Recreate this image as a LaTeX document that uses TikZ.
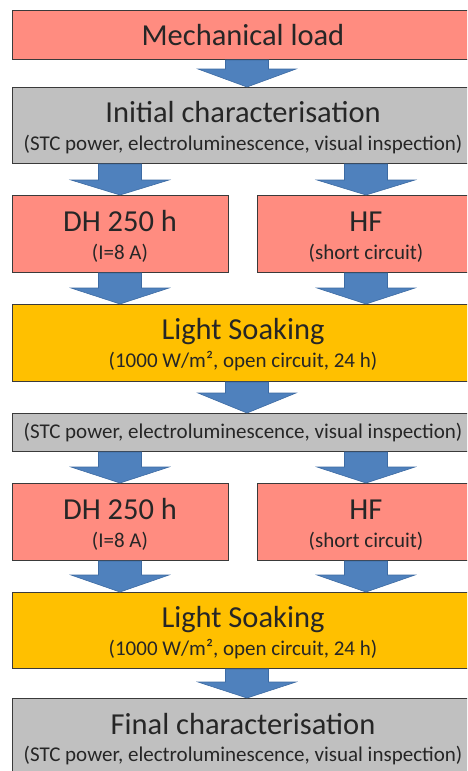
\documentclass[tikz,border=0pt]{standalone}
\usepackage{fontspec}
\setmainfont{Carlito}
\usetikzlibrary{calc}
\definecolor{salmon}{HTML}{FF8C80}
\definecolor{boxgray}{HTML}{C0C0C0}
\definecolor{amber}{HTML}{FFC000}
\definecolor{arrowblue}{HTML}{4F81BD}
\definecolor{arrowedge}{HTML}{3D6BA3}
\definecolor{edge}{HTML}{3A3A3A}
\newcommand\ttlfont{\fontsize{30.5}{34}\selectfont}
\newcommand\subfont{\fontsize{21}{24}\selectfont}
\newcommand\blockarrow[4]{%
  \filldraw[barrow] let \p1=(#2.south), \p2=(#3.north) in
    (#1pt-21.5pt,\y1) -- (#1pt+21.5pt,\y1) -- (#1pt+21.5pt,\y2+#4pt)
    -- (#1pt+49pt,\y2+#4pt) -- (#1pt,\y2) -- (#1pt-49pt,\y2+#4pt)
    -- (#1pt-21.5pt,\y2+#4pt) -- cycle;}
\tikzset{
  box/.style={draw=edge, line width=1pt, rectangle, inner sep=0pt, anchor=north west},
  redbox/.style={box, fill=salmon},
  graybox/.style={box, fill=boxgray},
  ambbox/.style={box, fill=amber},
  ttl/.style={anchor=base, inner sep=0pt, font=\ttlfont, text=black!85},
  sub/.style={anchor=base, inner sep=0pt, font=\subfont, text=black!85},
  barrow/.style={fill=arrowblue, draw=arrowedge, line width=0.6pt, line join=miter},
}
\begin{document}
\begin{tikzpicture}[x=1pt,y=-1pt]
\useasboundingbox (0,0) rectangle (467,771);
\clip (0,0) rectangle (467,771);
\fill[white] (0,0) rectangle (467,771);
% boxes
\node[redbox, minimum width=462pt, minimum height=49pt] (mech) at (12,10) {};
\node[graybox, minimum width=462pt, minimum height=76pt] (init) at (12,87) {};
\node[redbox, minimum width=216pt, minimum height=77pt] (dh1) at (12,195) {};
\node[redbox, minimum width=218pt, minimum height=77pt] (hf1) at (257,195) {};
\node[ambbox, minimum width=462pt, minimum height=77pt] (ls1) at (12,304) {};
\node[graybox, minimum width=462pt, minimum height=38pt] (ch2) at (12,413) {};
\node[redbox, minimum width=216pt, minimum height=77pt] (dh2) at (12,483) {};
\node[redbox, minimum width=218pt, minimum height=77pt] (hf2) at (257,483) {};
\node[ambbox, minimum width=462pt, minimum height=76pt] (ls2) at (12,592) {};
\node[graybox, minimum width=462pt, minimum height=92pt] (fin) at (12,698) {};
% texts
\node[ttl] (mechT) at (243,45) {Mechanical load};
\node[ttl] (initT) at (243,122) {Initial characterisation};
\node[sub] (initS) at (243,150) {(STC power, electroluminescence, visual inspection)};
\node[ttl] (dh1T) at (120,231) {DH 250 h};
\node[sub] (dh1S) at (120,259) {(I=8 A)};
\node[ttl] (hf1T) at (366,231) {HF};
\node[sub] (hf1S) at (366,259) {(short circuit)};
\node[ttl] (ls1T) at (243,339) {Light Soaking};
\node[sub] (ls1S) at (243,367) {(1000 W/m², open circuit, 24 h)};
\node[sub] (ch2S) at (243,438) {(STC power, electroluminescence, visual inspection)};
\node[ttl] (dh2T) at (120,519) {DH 250 h};
\node[sub] (dh2S) at (120,547) {(I=8 A)};
\node[ttl] (hf2T) at (366,519) {HF};
\node[sub] (hf2S) at (366,547) {(short circuit)};
\node[ttl] (ls2T) at (243,627) {Light Soaking};
\node[sub] (ls2S) at (243,655) {(1000 W/m², open circuit, 24 h)};
\node[ttl] (finT) at (243,734) {Final characterisation};
\node[sub] (finS) at (243,761) {(STC power, electroluminescence, visual inspection)};
% arrows
\blockarrow{247}{mech}{init}{18}
\blockarrow{120}{init}{dh1}{15}
\blockarrow{366}{init}{hf1}{15}
\blockarrow{120}{dh1}{ls1}{16}
\blockarrow{366}{hf1}{ls1}{16}
\blockarrow{247}{ls1}{ch2}{20}
\blockarrow{120}{ch2}{dh2}{16}
\blockarrow{366}{ch2}{hf2}{16}
\blockarrow{120}{dh2}{ls2}{17}
\blockarrow{366}{hf2}{ls2}{17}
\blockarrow{247}{ls2}{fin}{16}
\end{tikzpicture}
\end{document}
